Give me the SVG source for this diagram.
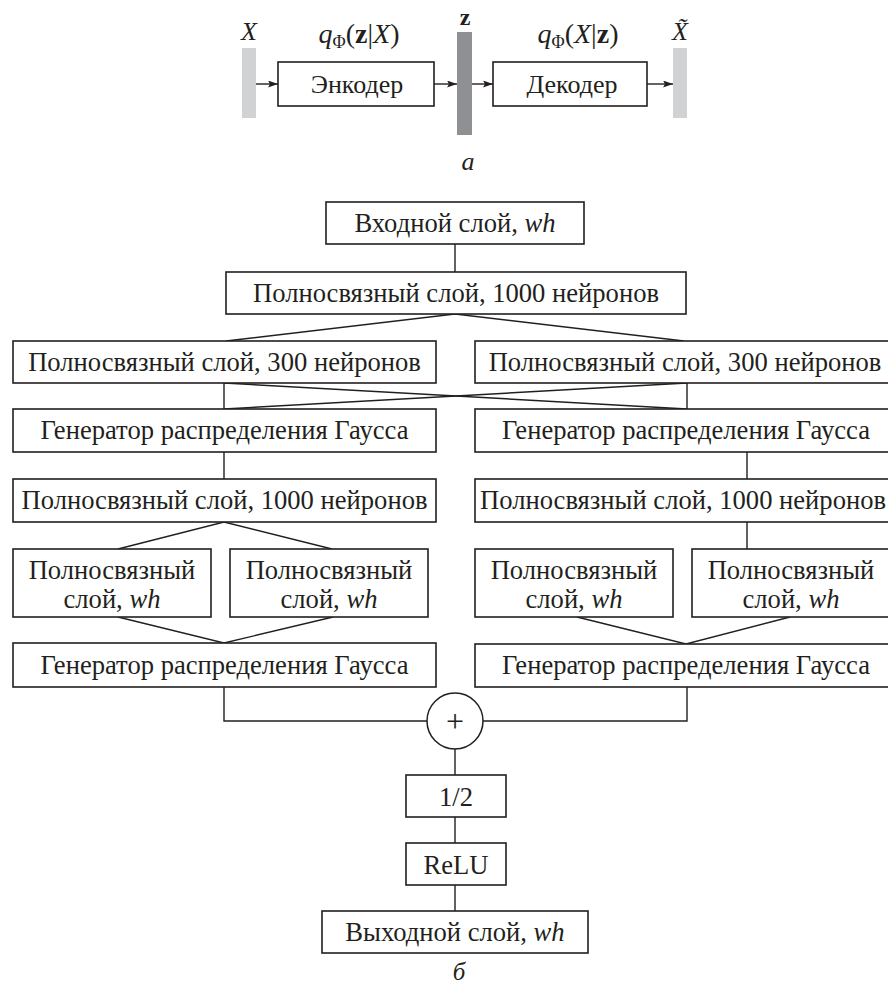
<svg xmlns="http://www.w3.org/2000/svg" width="888" height="990" viewBox="0 0 888 990">
<defs>
<marker id="arr" markerUnits="userSpaceOnUse" markerWidth="11" markerHeight="8" refX="10" refY="3.5" orient="auto">
<path d="M0,0 L10,3.5 L0,7 L2,3.5 z" fill="#231f20"/>
</marker>
</defs>
<style>
text{font-family:"Liberation Serif","Times New Roman",serif;fill:#231f20;}
.t{font-size:26.6px;text-anchor:middle;}
.box{fill:#fff;stroke:#231f20;stroke-width:1.6;}
.ln{stroke:#231f20;stroke-width:1.4;fill:none;}
.it{font-style:italic;}
.lbar{fill:#d1d2d4;}
.dbar{fill:#8f9093;}
</style>
<rect width="888" height="990" fill="#fff"/>

<g id="connectors">
<line class="ln" x1="256" y1="84" x2="278" y2="84" marker-end="url(#arr)"/>
<line class="ln" x1="434" y1="84" x2="457" y2="84" marker-end="url(#arr)"/>
<line class="ln" x1="472" y1="84" x2="493" y2="84" marker-end="url(#arr)"/>
<line class="ln" x1="647" y1="84" x2="673" y2="84" marker-end="url(#arr)"/>

<line class="ln" x1="455" y1="244" x2="455" y2="272"/>
<polyline class="ln" points="226,341 455,314 684,341"/>
<line class="ln" x1="224" y1="383" x2="224" y2="409"/>
<line class="ln" x1="687" y1="383" x2="687" y2="409"/>
<line class="ln" x1="224" y1="383" x2="687" y2="409"/>
<line class="ln" x1="687" y1="383" x2="224" y2="409"/>
<line class="ln" x1="224" y1="452" x2="224" y2="479"/>
<line class="ln" x1="747" y1="452" x2="747" y2="479"/>
<polyline class="ln" points="118,549 224,522 332,549"/>
<line class="ln" x1="747" y1="522" x2="747" y2="549"/>
<polyline class="ln" points="118,617 224,643 333,617"/>
<polyline class="ln" points="577,617 686,644 790,617"/>
<polyline class="ln" points="224,687 224,721 427,721"/>
<polyline class="ln" points="687,687 687,721 483,721"/>
<line class="ln" x1="455" y1="749" x2="455" y2="775"/>
<line class="ln" x1="455" y1="817" x2="455" y2="843"/>
<line class="ln" x1="455" y1="885" x2="455" y2="911"/>
</g>

<g id="barX"><rect class="lbar" x="242" y="48" width="14" height="70"/>
<text x="249" y="40" font-size="26" class="it" text-anchor="middle">X</text></g>
<g id="encoder"><rect class="box" x="278" y="62" width="156" height="44"/>
<text x="357" y="93" font-size="26" text-anchor="middle">Энкодер</text>
<text x="359" y="43" font-size="28" text-anchor="middle"><tspan class="it">q</tspan><tspan font-size="18" dy="5">Φ</tspan><tspan dy="-5">(</tspan><tspan font-weight="bold">z</tspan>|<tspan class="it">X</tspan>)</text></g>
<g id="barZ"><rect class="dbar" x="457" y="32" width="15" height="103"/>
<text x="465" y="25" font-size="24" font-weight="bold" text-anchor="middle">z</text></g>
<g id="decoder"><rect class="box" x="493" y="62" width="154" height="44"/>
<text x="572" y="93" font-size="26" text-anchor="middle">Декодер</text>
<text x="578" y="43" font-size="28" text-anchor="middle"><tspan class="it">q</tspan><tspan font-size="18" dy="5">Φ</tspan><tspan dy="-5">(</tspan><tspan class="it">X</tspan>|<tspan font-weight="bold">z</tspan>)</text></g>
<g id="barXt"><rect class="lbar" x="673" y="48" width="14" height="70"/>
<text x="680" y="40" font-size="26" class="it" text-anchor="middle">X̃</text></g>
<text x="468" y="170" font-size="26" class="it" text-anchor="middle">a</text>

<g id="input"><rect class="box" x="326" y="202" width="258" height="42"/>
<text class="t" x="455" y="232">Входной слой, <tspan class="it">wh</tspan></text></g>
<g id="fc1000"><rect class="box" x="226" y="272" width="460" height="42"/>
<text class="t" x="456" y="302">Полносвязный слой, 1000 нейронов</text></g>
<g id="fc300L"><rect class="box" x="13" y="341" width="423" height="42"/>
<text class="t" x="224.5" y="371">Полносвязный слой, 300 нейронов</text></g>
<g id="fc300R"><rect class="box" x="475" y="341" width="424" height="42"/>
<text class="t" x="685" y="371">Полносвязный слой, 300 нейронов</text></g>
<g id="gaussL1"><rect class="box" x="13" y="409" width="423" height="43"/>
<text class="t" x="224.5" y="439">Генератор распределения Гаусса</text></g>
<g id="gaussR1"><rect class="box" x="475" y="409" width="424" height="43"/>
<text class="t" x="686" y="439">Генератор распределения Гаусса</text></g>
<g id="fc1000L"><rect class="box" x="13" y="479" width="423" height="43"/>
<text class="t" x="224.5" y="509">Полносвязный слой, 1000 нейронов</text></g>
<g id="fc1000R"><rect class="box" x="475" y="479" width="430" height="43"/>
<text x="480" y="509" font-size="26.6">Полносвязный слой, 1000 нейронов</text></g>
<g id="subL1"><rect class="box" x="13" y="549" width="198" height="68"/>
<text class="t" x="112" y="579">Полносвязный</text><text class="t" x="112" y="608">слой, <tspan class="it">wh</tspan></text></g>
<g id="subL2"><rect class="box" x="230" y="549" width="198" height="68"/>
<text class="t" x="329" y="579">Полносвязный</text><text class="t" x="329" y="608">слой, <tspan class="it">wh</tspan></text></g>
<g id="subR1"><rect class="box" x="475" y="549" width="198" height="68"/>
<text class="t" x="574" y="579">Полносвязный</text><text class="t" x="574" y="608">слой, <tspan class="it">wh</tspan></text></g>
<g id="subR2"><rect class="box" x="692" y="549" width="198" height="68"/>
<text class="t" x="791" y="579">Полносвязный</text><text class="t" x="791" y="608">слой, <tspan class="it">wh</tspan></text></g>
<g id="gaussL2"><rect class="box" x="13" y="643" width="423" height="44"/>
<text class="t" x="224.5" y="674">Генератор распределения Гаусса</text></g>
<g id="gaussR2"><rect class="box" x="475" y="644" width="424" height="43"/>
<text class="t" x="686" y="674">Генератор распределения Гаусса</text></g>
<g id="sum"><circle cx="455" cy="721" r="28" fill="#fff" stroke="#231f20" stroke-width="1.5"/>
<text x="455" y="732" font-size="32" text-anchor="middle" fill="#555">+</text></g>
<g id="half"><rect class="box" x="406" y="775" width="100" height="42"/>
<text class="t" x="456" y="806">1/2</text></g>
<g id="relu"><rect class="box" x="406" y="843" width="100" height="42"/>
<text class="t" x="456" y="874">ReLU</text></g>
<g id="output"><rect class="box" x="322" y="911" width="266" height="42"/>
<text class="t" x="455" y="941">Выходной слой, <tspan class="it">wh</tspan></text></g>
<text x="459" y="980" font-size="25" class="it" text-anchor="middle">б</text>
</svg>
